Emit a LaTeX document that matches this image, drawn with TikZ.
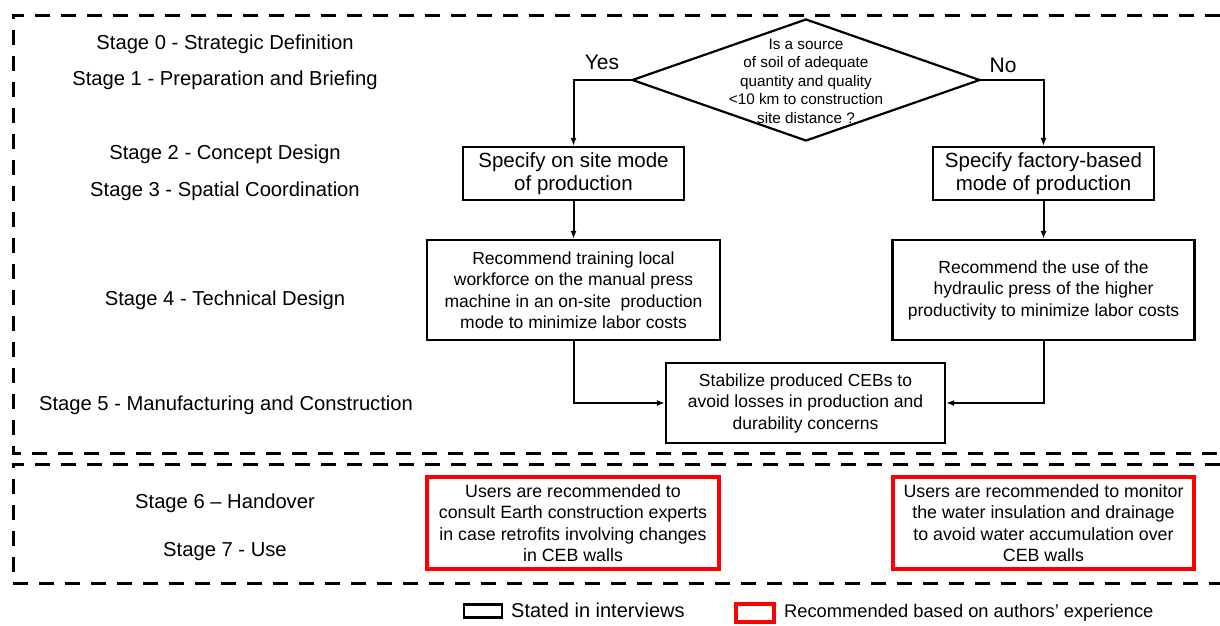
\documentclass[tikz,border=0pt]{standalone}
\usepackage{fontspec}
\setmainfont{Liberation Sans}
\usetikzlibrary{shapes.geometric,arrows.meta}
\begin{document}
\begin{tikzpicture}[x=1pt,y=-1pt,
  frame/.style={line width=3pt, dash pattern=on 15pt off 11pt},
  box/.style={draw, line width=2.2pt, align=center, inner sep=0pt, font=\fontsize{17.5}{21.5}\selectfont},
  bigbox/.style={box, font=\fontsize{20.5}{23.5}\selectfont},
  rbox/.style={draw=red, line width=3.2pt, align=center, inner sep=0pt, font=\fontsize{17.8}{21.5}\selectfont},
  stage/.style={font=\fontsize{20.2}{22}\selectfont, anchor=center},
  lbl/.style={font=\fontsize{21}{22}\selectfont},
  arr/.style={line width=2pt, -{Latex[length=8pt,width=6pt]}},
  qtext/.style={align=center, font=\fontsize{15.3}{18.5}\selectfont}
]
\useasboundingbox (0,0) rectangle (1220,625);

% frames
\draw[frame] (1220,15) -- (13,15) -- (13,453) -- (1220,453);
\draw[frame] (1220,464) -- (13,464) -- (13,583) -- (1220,583);

% stage labels
\node[stage] (st0) at (225,44) {Stage 0 - Strategic Definition};
\node[stage] (st1) at (225,80) {Stage 1 - Preparation and Briefing};
\node[stage] (st2) at (225,154) {Stage 2 - Concept Design};
\node[stage] (st3) at (225,191) {Stage 3 - Spatial Coordination};
\node[stage] (st4) at (225,300) {Stage 4 - Technical Design};
\node[stage] (st5) at (226,405) {Stage 5 - Manufacturing and Construction};
\node[stage] (st6) at (225,503) {Stage 6 -- Handover};
\node[stage] (st7) at (225,552) {Stage 7 - Use};

% decision
\node[diamond, draw, line width=2.2pt, minimum width=348pt, minimum height=122pt, inner sep=0pt] (q) at (806,80) {};
\node[qtext] (qt) at (806,81) {Is a source\\of soil of adequate\\quantity and quality\\<10 km to construction\\site distance ?};

\node[lbl] (yes) at (602,62) {Yes};
\node[lbl] (no) at (1003,65) {No};

% boxes
\node[bigbox, minimum width=221pt, minimum height=53pt] (s1) at (573.5,173.5) {Specify on site mode\\of production};
\node[bigbox, minimum width=221pt, minimum height=53pt] (s2) at (1043.5,173.5) {Specify factory-based\\mode of production};
\node[box, minimum width=293pt, minimum height=100pt] (r1) at (573.5,290) {Recommend training local\\workforce on the manual press\\machine in an on-site\ \ production\\mode to minimize labor costs};
\node[box, minimum width=302pt, minimum height=100pt] (r2) at (1043.5,290) {Recommend the use of the\\hydraulic press of the higher\\productivity to minimize labor costs};
\node[box, minimum width=279pt, minimum height=80pt] (sb) at (805.5,403) {Stabilize produced CEBs to\\avoid losses in production and\\durability concerns};

\node[rbox, minimum width=292pt, minimum height=92pt] (u1) at (573,523) {Users are recommended to\\consult Earth construction experts\\in case retrofits involving changes\\in CEB walls};
\node[rbox, minimum width=301pt, minimum height=92pt] (u2) at (1043.5,523) {Users are recommended to monitor\\the water insulation and drainage\\to avoid water accumulation over\\CEB walls};

% connectors
\draw[arr] (q.west) -| (s1.north);
\draw[arr] (q.east) -| (s2.north);
\draw[arr] (s1.south) -- (r1.north);
\draw[arr] (s2.south) -- (r2.north);
\draw[arr] (r1.south) |- (sb.west);
\draw[arr] (r2.south) |- (sb.east);

% legend
\node[draw, line width=2.2pt, minimum width=38pt, minimum height=13pt, inner sep=0pt] (lg1) at (483,611) {};
\node[anchor=west, font=\fontsize{20}{22}\selectfont, inner sep=0pt] (lt1) at (511,610) {Stated in interviews};
\node[draw=red, line width=3.2pt, minimum width=38pt, minimum height=18pt, inner sep=0pt] (lg2) at (755,613) {};
\node[anchor=west, font=\fontsize{18.3}{20}\selectfont, inner sep=0pt] (lt2) at (784,613) {Recommended based on authors’ experience};
\end{tikzpicture}
\end{document}
